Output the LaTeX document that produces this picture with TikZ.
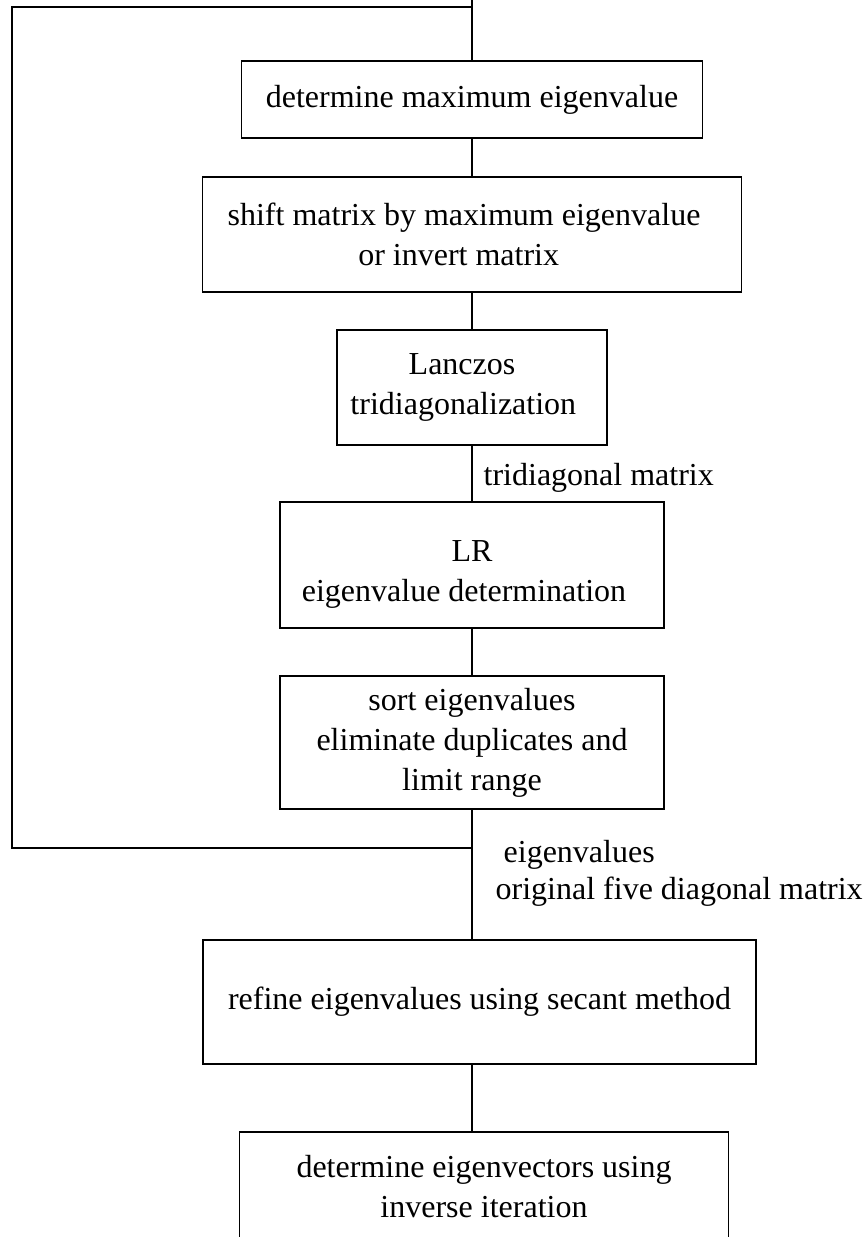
\documentclass[tikz,border=0pt]{standalone}
\usepackage{fontspec}
\setmainfont{Liberation Serif}
\usepackage{tikz}
\usetikzlibrary{arrows.meta}

\begin{document}
\begin{tikzpicture}[x=0.75pt, y=-0.75pt, line width=1pt,
    every node/.style={font=\fontsize{24}{30}\selectfont}]
\useasboundingbox (0,0) rectangle (867,1237);

\begin{scope}[every node/.style={draw,rectangle,align=center,inner sep=0pt,
              font=\fontsize{24}{30}\selectfont}]
    \node[minimum width=345.75pt, minimum height=57.75pt] (maxev) at (472,99.5) {determine maximum eigenvalue};
    \node[minimum width=404.25pt, minimum height=86.25pt] (shift) at (472,234.5) {shift matrix by maximum eigenvalue\hspace*{12pt}\\or invert matrix\hspace*{20pt}};
    \node[minimum width=202.5pt, minimum height=86.25pt] (lanczos) at (472,387.5) {Lanczos\hspace*{15pt}\\tridiagonalization\hspace*{13pt}};
    \node[minimum width=288pt, minimum height=94.5pt] (lr) at (472,565) {\rule{0pt}{30pt}LR\\eigenvalue determination\hspace*{12pt}};
    \node[minimum width=288pt, minimum height=99.75pt] (sort) at (472,742.5) {sort eigenvalues\\eliminate duplicates and\\limit range};
    \node[minimum width=414.75pt, minimum height=93pt] (secant) at (479.5,1002) {refine eigenvalues using secant method};
\end{scope}

% last box runs off the bottom edge
\node[minimum width=366pt, anchor=north, inner ysep=17pt, align=center] (invit) at (484,1132) {determine eigenvectors using\\inverse iteration};
\coordinate (bottom) at (0,1237);
\draw (invit.north west |- bottom) -- (invit.north west) -- (invit.north east) -- (invit.north east |- bottom);

\begin{scope}[every node/.style={anchor=west,inner sep=0pt,
              font=\fontsize{24}{30}\selectfont}]
    \node (tridlbl) at (483,478) {tridiagonal matrix};
    \node (evlbl) at (503,855) {eigenvalues};
    \node (origlbl) at (495,892) {original five diagonal matrix};
\end{scope}

\coordinate (topend) at (472,0);
\coordinate (loopend) at (472,7);
\coordinate (loopcorner) at (12,7);
\coordinate (fork) at (472,848);

\begin{scope}[every edge/.style={draw=black,line width=1pt}]
    \path [-] (topend) edge (maxev.north)
              (maxev) edge (shift)
              (shift) edge (lanczos)
              (lanczos) edge (lr)
              (lr) edge (sort)
              (sort.south) edge (fork |- secant.north)
              (fork |- secant.south) edge (fork |- invit.north);
    \draw (fork) -| (loopcorner) -- (loopend);
\end{scope}
\end{tikzpicture}
\end{document}
